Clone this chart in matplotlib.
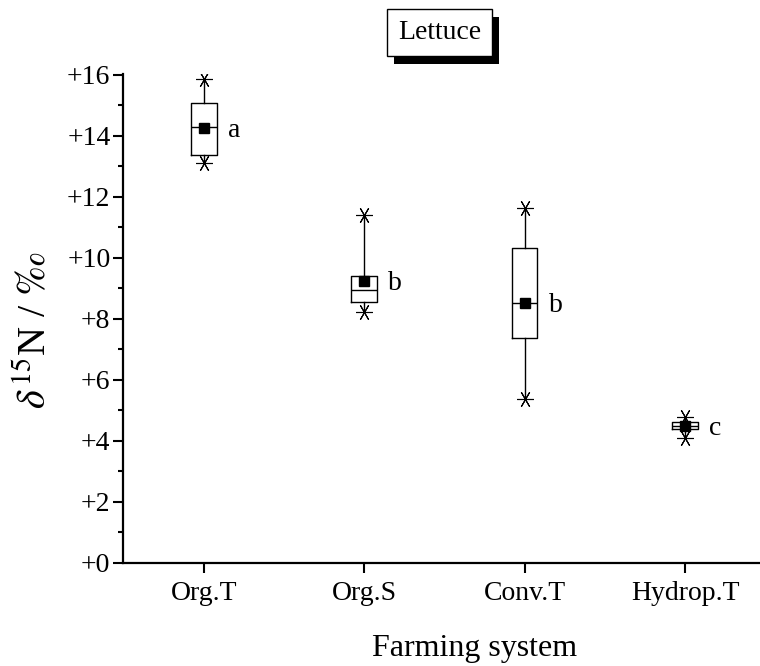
"""Lettuce d15N box plot by farming system"""

import matplotlib
matplotlib.use("Agg")
import matplotlib.pyplot as plt
import matplotlib.patheffects as pe
from matplotlib.ticker import FuncFormatter, MultipleLocator

SYSTEMS = ["Org.T", "Org.S", "Conv.T", "Hydrop.T"]
WHIS_LO = [13.10, 8.24, 5.37, 4.10]
Q1 = [13.38, 8.57, 7.37, 4.39]
MEDIAN = [14.30, 8.95, 8.53, 4.50]
Q3 = [15.07, 9.41, 10.34, 4.61]
WHIS_HI = [15.86, 11.41, 11.63, 4.78]
MEAN = [14.27, 9.25, 8.53, 4.50]
GROUPS = ["a", "b", "b", "c"]

DPI = 100
FONT = "Liberation Serif"

plt.rcParams["font.family"] = [FONT, "DejaVu Serif"]
plt.rcParams["mathtext.fontset"] = "stix"

# =============================================================================
fig = plt.figure(figsize=(760 / DPI, 666 / DPI), dpi=DPI)
ax = fig.add_axes([123 / 760, 103 / 666, 637 / 760, 489 / 666])

pos = list(range(1, len(SYSTEMS) + 1))
stats = []
for i in range(len(SYSTEMS)):
    stats.append(dict(med=MEDIAN[i], q1=Q1[i], q3=Q3[i], whislo=WHIS_LO[i],
                      whishi=WHIS_HI[i], mean=MEAN[i], fliers=[]))

line = dict(color="black", linewidth=1.0)
ax.bxp(stats, positions=pos, widths=0.16, showfliers=False, showcaps=False,
       showmeans=True, boxprops=line, whiskerprops=line,
       medianprops=line,
       meanprops=dict(marker="s", markersize=6.5, markerfacecolor="black",
                      markeredgecolor="black"))

# Min / max asterisks
for vals in (WHIS_HI, WHIS_LO):
    ax.plot(pos, vals, linestyle="none", marker=(6, 2, 30), markersize=12,
            color="black", markeredgewidth=0.8)

# Significance letters
for i in range(len(SYSTEMS)):
    ax.text(pos[i] + 0.15, MEAN[i] - 0.08, GROUPS[i], fontsize=20,
            ha="left", va="center")

# -----------------------------------------------------------------------------
ax.set_xlim(0.495, 4.468)
ax.set_ylim(0, 16.03)
ax.set_xticks(pos)
ax.set_xticklabels(SYSTEMS)
ax.yaxis.set_major_locator(MultipleLocator(2))
ax.yaxis.set_minor_locator(MultipleLocator(1))
ax.yaxis.set_major_formatter(FuncFormatter(lambda v, p: "+{:d}".format(int(round(v)))))

for s in ["top", "right"]:
    ax.spines[s].set_visible(False)
for s in ["left", "bottom"]:
    ax.spines[s].set_linewidth(1.6)

ax.tick_params(axis="both", which="major", direction="out", length=7,
               width=1.5, labelsize=20, pad=2)
ax.tick_params(axis="y", which="minor", direction="out", length=3.5,
               width=1.5)
ax.tick_params(axis="x", pad=6)

ax.set_xlabel("Farming system", fontsize=23, va="center")
ax.xaxis.set_label_coords(0.5526, -0.174)
ax.set_ylabel(r"$\delta^{\mathrm{15}}$N / $\it{‰}$", fontsize=29,
              va="center", ha="center")
ax.yaxis.set_label_coords(-0.138, 0.476)

# Title box with drop shadow
t = fig.text(0.578, 0.951, "Lettuce", fontsize=20, ha="center", va="center",
             bbox=dict(boxstyle="square,pad=0.4", facecolor="white",
                       edgecolor="black", linewidth=1.0))
t.get_bbox_patch().set_path_effects([
    pe.SimplePatchShadow(offset=(5, -5.5), shadow_rgbFace="black", alpha=1.0),
    pe.Normal()])

plt.savefig("out.png", dpi=DPI)
